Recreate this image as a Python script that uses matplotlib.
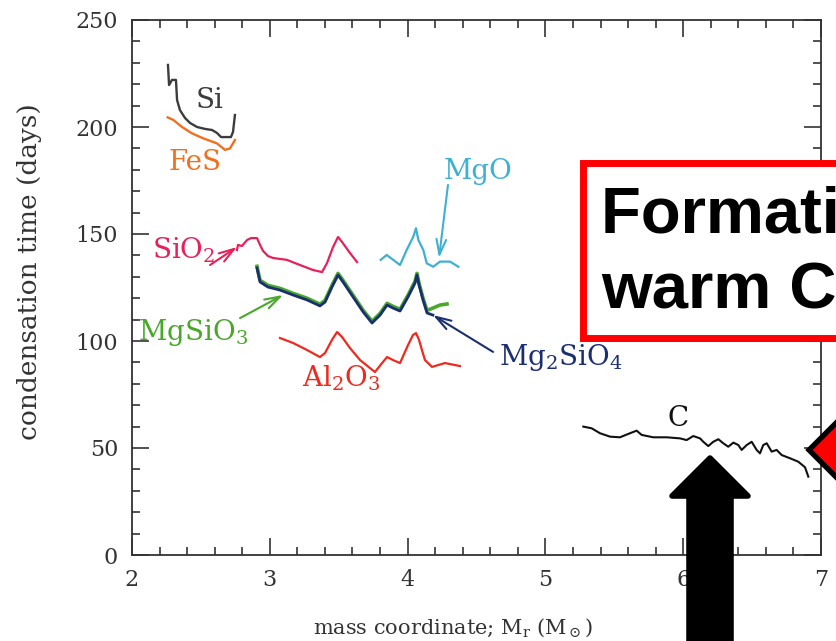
import matplotlib
matplotlib.use("Agg")
import matplotlib.pyplot as plt
from matplotlib.patches import Rectangle, Polygon
from matplotlib.ticker import MultipleLocator

plt.rcParams['font.family'] = ['DejaVu Serif']
plt.rcParams['mathtext.fontset'] = 'dejavuserif'

# condensation time (days) against mass coordinate (Msun) for each grain species
si_m = [2.261, 2.269, 2.290, 2.319, 2.327, 2.348, 2.385, 2.421, 2.472, 2.530, 2.581, 2.617, 2.646, 2.718, 2.733, 2.747]
si_t = [229.0, 219.6, 222.0, 222.0, 212.6, 207.9, 204.2, 201.9, 200.0, 199.1, 198.6, 197.2, 195.3, 195.3, 197.7, 205.6]

fes_m = [2.259, 2.300, 2.361, 2.433, 2.517, 2.615, 2.675, 2.711, 2.747]
fes_t = [204.5, 203.3, 200.1, 197.1, 194.7, 192.4, 189.3, 190.0, 193.9]

sio2_m = [2.762, 2.769, 2.798, 2.835, 2.864, 2.907, 2.929, 2.951, 2.987, 3.023, 3.125, 3.219, 3.313,
          3.379, 3.415, 3.459, 3.495, 3.524, 3.582, 3.633]
sio2_t = [142.5, 144.9, 144.4, 147.2, 148.1, 148.1, 144.9, 142.1, 139.7, 138.8, 137.9, 135.5, 133.2,
          132.2, 136.4, 143.9, 148.6, 146.3, 141.1, 136.9]

mg2sio4_m = [2.907, 2.929, 2.987, 3.074, 3.168, 3.270, 3.364, 3.401, 3.451, 3.495, 3.531, 3.604, 3.677,
             3.742, 3.800, 3.851, 3.894, 3.945, 4.003, 4.054, 4.068, 4.083, 4.112, 4.141, 4.184]
mg2sio4_t = [134.1, 127.6, 125.2, 123.8, 121.5, 119.2, 116.4, 118.2, 125.2, 130.8, 127.6, 120.6, 113.6,
             108.4, 112.1, 116.8, 115.4, 114.0, 120.6, 127.1, 130.8, 126.2, 119.2, 113.1, 112.1]

mgsio3_m = [2.907, 2.929, 2.987, 3.074, 3.168, 3.270, 3.364, 3.401, 3.451, 3.495, 3.531, 3.604, 3.677,
            3.742, 3.800, 3.851, 3.894, 3.945, 4.003, 4.054, 4.068, 4.083, 4.112, 4.141, 4.184, 4.235, 4.286]
mgsio3_t = [134.9, 128.4, 126.0, 124.6, 122.3, 120.0, 117.2, 119.0, 126.0, 131.6, 128.4, 121.4, 114.4,
            109.2, 112.9, 117.6, 116.2, 114.8, 121.4, 127.9, 131.6, 127.0, 120.0, 114.3, 115.4, 116.8, 117.3]

al2o3_m = [3.074, 3.168, 3.270, 3.364, 3.401, 3.451, 3.488, 3.524, 3.582, 3.655, 3.763, 3.821, 3.851,
           3.894, 3.945, 4.003, 4.039, 4.061, 4.083, 4.104, 4.126, 4.177, 4.271, 4.380]
al2o3_t = [101.4, 99.1, 95.8, 92.5, 94.4, 100.5, 104.2, 101.9, 96.7, 91.1, 85.5, 90.2, 92.5,
           91.1, 89.7, 98.1, 102.8, 103.7, 100.5, 95.8, 91.1, 87.9, 89.7, 88.3]

mgo_m = [3.805, 3.848, 3.896, 3.945, 3.993, 4.041, 4.061, 4.078, 4.114, 4.139, 4.186, 4.235, 4.308, 4.368]
mgo_t = [137.9, 140.2, 137.9, 135.5, 142.5, 148.7, 152.7, 147.2, 142.5, 136.3, 134.7, 137.1, 137.1, 134.7]

c_m = [5.275, 5.336, 5.396, 5.469, 5.541, 5.614, 5.662, 5.699, 5.783, 5.880, 5.977, 6.025, 6.073, 6.122,
       6.146, 6.182, 6.218, 6.255, 6.291, 6.327, 6.364, 6.400, 6.424, 6.461, 6.497, 6.533, 6.557, 6.581,
       6.606, 6.642, 6.678, 6.715, 6.775, 6.835, 6.884, 6.908]
c_t = [60.0, 59.2, 56.9, 55.3, 55.0, 56.9, 58.1, 56.1, 55.0, 55.0, 54.5, 53.7, 55.6, 54.5,
       52.9, 50.9, 52.9, 54.1, 52.2, 50.6, 52.5, 51.4, 49.1, 51.4, 52.9, 49.1, 47.5, 51.4,
       52.2, 48.3, 49.1, 46.7, 45.2, 43.6, 41.0, 36.6]

W, H = 836, 641
fig = plt.figure(figsize=(W / 100, H / 100), dpi=100)
ax = fig.add_axes([132 / W, 1 - 555 / H, 689 / W, 535 / H])

ax.plot(si_m, si_t, color='#3c3c3c', lw=1.7)
ax.plot(fes_m, fes_t, color='#f0701e', lw=1.7)
ax.plot(sio2_m, sio2_t, color='#e8205a', lw=1.6)
ax.plot(mgsio3_m, mgsio3_t, color='#48a82a', lw=2.6)
ax.plot(mg2sio4_m, mg2sio4_t, color='#1a2f70', lw=2.0)
ax.plot(al2o3_m, al2o3_t, color='#ee2a1e', lw=1.6)
ax.plot(mgo_m, mgo_t, color='#3fb0d2', lw=1.6)
ax.plot(c_m, c_t, color='#111111', lw=1.5)

lab = dict(fontsize=20, ha='center', va='center')
ax.text(2.566, 212.6, 'Si', color='#3c3c3c', **lab)
ax.text(2.457, 183.2, 'FeS', color='#f0701e', **lab)
ax.text(2.374, 142.5, 'SiO$_2$', color='#e8205a', **lab)
ax.text(2.443, 104.2, 'MgSiO$_3$', color='#48a82a', **lab)
ax.text(3.520, 82.5, 'Al$_2$O$_3$', color='#ee2a1e', **lab)
ax.text(4.511, 179.0, 'MgO', color='#3fb0d2', **lab)
ax.text(5.113, 92.5, 'Mg$_2$SiO$_4$', color='#1a2f70', **lab)
ax.text(5.962, 64.0, 'C', color='#111111', **lab)

def pointer(tail, head, color):
    ax.annotate('', xy=head, xytext=tail,
                arrowprops=dict(arrowstyle='->,head_length=1.1,head_width=0.35',
                                color=color, lw=1.5, shrinkA=0, shrinkB=0))

pointer((2.566, 135.5), (2.762, 143.9), '#e8205a')
pointer((2.784, 110.7), (3.096, 121.5), '#48a82a')
pointer((4.293, 172.9), (4.228, 138.8), '#3fb0d2')
pointer((4.620, 94.9), (4.184, 112.1), '#1a2f70')

ax.set_xlim(2, 7)
ax.set_ylim(0, 250)
ax.xaxis.set_major_locator(MultipleLocator(1))
ax.xaxis.set_minor_locator(MultipleLocator(0.2))
ax.yaxis.set_major_locator(MultipleLocator(50))
ax.yaxis.set_minor_locator(MultipleLocator(10))
ax.tick_params(which='both', direction='in', top=True, right=True, color='#333333', width=1.2)
ax.tick_params(which='major', length=12, labelsize=16, labelcolor='#333333', pad=10)
ax.tick_params(which='minor', length=6)
for s in ax.spines.values():
    s.set_color('#333333')
    s.set_linewidth(1.3)

fig.text(30 / W, 1 - 272 / H, 'condensation time (days)', rotation=90,
         ha='center', va='center', fontsize=19, color='#333333')
fig.text(453 / W, 1 - 628 / H, r'mass coordinate; M$_{\rm r}$ (M$_\odot$)',
         ha='center', va='center', fontsize=15, color='#333333')

# slide overlays on top of the chart
def fp(px, py):
    return (px / W, 1 - py / H)

box = Rectangle(fp(583, 337.5), (900 - 583) / W, (337.5 - 163) / H, transform=fig.transFigure,
                facecolor='white', edgecolor='#ff0000', lw=5, zorder=5)
fig.add_artist(box)
fig.text(601 / W, 1 - 233 / H, 'Formation of', fontsize=47, fontweight='bold',
         family='Liberation Sans', va='baseline', ha='left', zorder=6)
fig.text(601 / W, 1 - 308 / H, 'warm C dust', fontsize=47, fontweight='bold',
         family='Liberation Sans', va='baseline', ha='left', zorder=6)

up_arrow = Polygon([fp(710, 458), fp(748, 496), fp(731, 496), fp(731, 660),
                    fp(689, 660), fp(689, 496), fp(672, 496)], closed=True,
                   transform=fig.transFigure, facecolor='black', edgecolor='black',
                   lw=4, joinstyle='round', zorder=5)
fig.add_artist(up_arrow)

left_arrow = Polygon([fp(809, 450), fp(880, 379), fp(880, 521)], closed=True,
                     transform=fig.transFigure, facecolor='#ff0000', edgecolor='black',
                     lw=3.8, joinstyle='miter', zorder=5)
fig.add_artist(left_arrow)

fig.savefig('out.png', dpi=100, facecolor='white')
